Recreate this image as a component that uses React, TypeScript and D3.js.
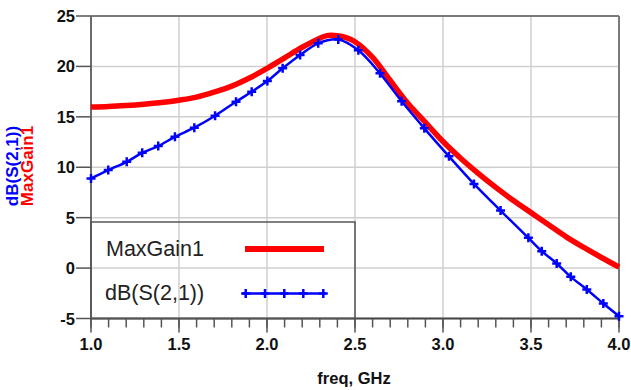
import React from "react";
import * as d3 from "d3";

// MaxGain1 (dB) vs frequency (GHz)
const maxGainFreq = [1.0, 1.1, 1.2, 1.3, 1.4, 1.5, 1.6, 1.7, 1.8, 1.9, 2.0, 2.1, 2.2, 2.3, 2.35, 2.4, 2.45, 2.5, 2.6, 2.7, 2.8, 2.9, 3.0, 3.1, 3.2, 3.3, 3.4, 3.5, 3.6, 3.7, 3.8, 3.9, 4.0];
const maxGainValues = [15.97, 16.02, 16.12, 16.25, 16.42, 16.65, 16.95, 17.45, 18.05, 18.85, 19.8, 20.85, 21.9, 22.8, 23.08, 23.05, 22.85, 22.45, 20.9, 18.6, 16.35, 14.45, 12.55, 10.9, 9.4, 8.0, 6.7, 5.5, 4.3, 3.1, 2.05, 1.05, 0.1];

// dB(S(2,1)) data points (with markers)
const s21Freq = [1.0, 1.098, 1.203, 1.291, 1.382, 1.477, 1.587, 1.705, 1.824, 1.913, 2.002, 2.089, 2.188, 2.291, 2.405, 2.519, 2.642, 2.765, 2.894, 3.034, 3.176, 3.327, 3.485, 3.561, 3.646, 3.726, 3.817, 3.911, 4.0];
const s21Values = [8.89, 9.72, 10.54, 11.43, 12.1, 13.02, 13.92, 15.11, 16.5, 17.49, 18.55, 19.81, 21.13, 22.29, 22.67, 21.6, 19.31, 16.54, 13.86, 11.08, 8.35, 5.7, 3.0, 1.68, 0.46, -0.87, -2.12, -3.51, -4.77];

const xTicks = [1.0, 1.5, 2.0, 2.5, 3.0, 3.5, 4.0];
const xMinorTicks = d3.range(10, 41).map((v) => v / 10);
const yTicks = [-5, 0, 5, 10, 15, 20, 25];

const seriesNames = ["MaxGain1", "dB(S(2,1))"];

export default function App() {
  const W = 631;
  const H = 390;
  const x = d3.scaleLinear().domain([1, 4]).range([91, 619]);
  const y = d3.scaleLinear().domain([-5, 25]).range([318.5, 16]);

  const redData = maxGainFreq.map((f, i) => [f, maxGainValues[i]] as [number, number]);
  const blueData = s21Freq.map((f, i) => [f, s21Values[i]] as [number, number]);

  const line = d3
    .line<[number, number]>()
    .x((d) => x(d[0]))
    .y((d) => y(d[1]))
    .curve(d3.curveCatmullRom.alpha(0.5));

  const font = "'Liberation Sans', Arial, sans-serif";
  const plusPath = (cx: number, cy: number, s = 4.5) =>
    `M${cx - s},${cy}H${cx + s}M${cx},${cy - s}V${cy + s}`;

  const legendBlueMarkers = [245.7, 265, 284.3, 303.3, 323.3];

  return (
    <svg
      width={W}
      height={H}
      style={{ position: "absolute", left: 0, top: 0, background: "#fff" }}
      fontFamily={font}
    >
      {/* grid */}
      {xTicks.map((t) => (
        <line key={"gx" + t} x1={x(t)} x2={x(t)} y1={y(25)} y2={y(-5)} stroke="#cfcfcf" strokeWidth={1.5} />
      ))}
      {yTicks.map((t) => (
        <line key={"gy" + t} x1={x(1)} x2={x(4)} y1={y(t)} y2={y(t)} stroke="#cfcfcf" strokeWidth={1.5} />
      ))}

      {/* frame */}
      <line x1={x(1)} x2={x(4)} y1={y(25)} y2={y(25)} stroke="#7a7a7a" strokeWidth={2} />
      <line x1={x(4)} x2={x(4)} y1={y(25)} y2={y(-5)} stroke="#7a7a7a" strokeWidth={2} />
      <line x1={x(1)} x2={x(1)} y1={y(25)} y2={y(-5)} stroke="#6a6a6a" strokeWidth={2} />
      <line x1={x(1) - 1} x2={x(4) + 1} y1={y(-5)} y2={y(-5)} stroke="#444" strokeWidth={2} />

      {/* x ticks */}
      {xMinorTicks.map((t) => (
        <line key={"mx" + t} x1={x(t)} x2={x(t)} y1={y(-5)} y2={y(-5) + 9} stroke="#555" strokeWidth={1.5} />
      ))}
      {xTicks.map((t) => (
        <line key={"tx" + t} x1={x(t)} x2={x(t)} y1={y(-5)} y2={y(-5) + 14} stroke="#555" strokeWidth={1.5} />
      ))}
      {xTicks.map((t) => (
        <text key={"lx" + t} x={x(t)} y={350} textAnchor="middle" fontSize={16.5} fontWeight="bold" fill="#111">
          {t.toFixed(1)}
        </text>
      ))}

      {/* y ticks */}
      {yTicks.map((t) => (
        <line key={"ty" + t} x1={x(1) - 15} x2={x(1)} y1={y(t)} y2={y(t)} stroke="#555" strokeWidth={1.5} />
      ))}
      {yTicks.map((t) => (
        <text key={"ly" + t} x={75} y={y(t) + 6} textAnchor="end" fontSize={16.5} fontWeight="bold" fill="#111">
          {t}
        </text>
      ))}

      {/* axis titles */}
      <text x={354} y={384} textAnchor="middle" fontSize={16.5} fontWeight="bold" fill="#111">
        freq, GHz
      </text>
      <text transform={`translate(17.5,166) rotate(-90)`} textAnchor="middle" fontSize={17} fontWeight="bold" fill="#0000ff">
        {seriesNames[1]}
      </text>
      <text transform={`translate(32.5,166) rotate(-90)`} textAnchor="middle" fontSize={17} fontWeight="bold" fill="#ff0000">
        {seriesNames[0]}
      </text>

      {/* legend */}
      <rect x={x(1)} y={222} width={x(2.5) - x(1)} height={y(-5) - 222} fill="none" stroke="#555" strokeWidth={1.5} />
      <text x={106} y={256} fontSize={21.5} fill="#222">
        {seriesNames[0]}
      </text>
      <line x1={245} x2={324} y1={249} y2={249} stroke="#ff0000" strokeWidth={6} />
      <text x={105} y={300} fontSize={21.5} fill="#222">
        {seriesNames[1]}
      </text>
      <line x1={242} x2={326} y1={293.5} y2={293.5} stroke="#0000ff" strokeWidth={2.5} />
      {legendBlueMarkers.map((mx) => (
        <path key={"lm" + mx} d={plusPath(mx, 293.5)} stroke="#0000ff" strokeWidth={2.5} fill="none" />
      ))}

      {/* series */}
      <path d={line(redData) || ""} fill="none" stroke="#ff0000" strokeWidth={5.5} strokeLinejoin="round" />
      <path d={line(blueData) || ""} fill="none" stroke="#0000ff" strokeWidth={2.5} strokeLinejoin="round" />
      {blueData.map((d, i) => (
        <path key={"m" + i} d={plusPath(x(d[0]), y(d[1]))} stroke="#0000ff" strokeWidth={2.5} fill="none" />
      ))}
    </svg>
  );
}
